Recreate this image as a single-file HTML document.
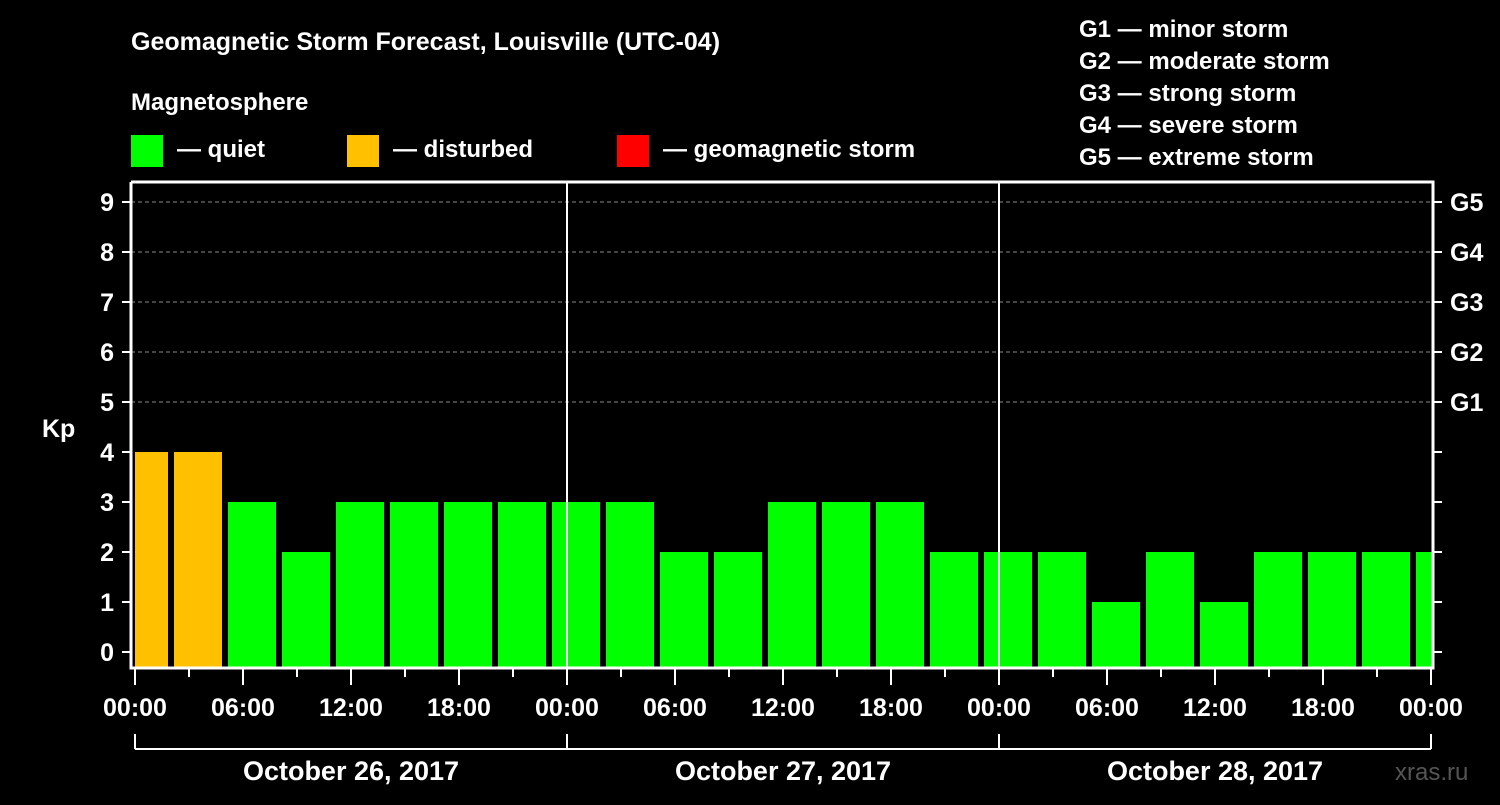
<!DOCTYPE html>
<html><head><meta charset="utf-8"><style>
html,body{margin:0;padding:0;background:#000;}
svg text{font-family:"Liberation Sans",Arial,sans-serif;font-weight:bold;fill:#fff;}
</style></head><body>
<svg id="c" width="1500" height="800" viewBox="0 0 1500 800">
<text x="131" y="50" font-size="25">Geomagnetic Storm Forecast, Louisville (UTC-04)</text>
<text x="131" y="110" font-size="24">Magnetosphere</text>
<rect x="131" y="135" width="32" height="32" fill="#00ff00"/>
<text x="177" y="157" font-size="24">— quiet</text>
<rect x="347" y="135" width="32" height="32" fill="#ffc000"/>
<text x="393" y="157" font-size="24">— disturbed</text>
<rect x="617" y="135" width="32" height="32" fill="#ff0000"/>
<text x="663" y="157" font-size="24">— geomagnetic storm</text>
<g font-size="24">
<text x="1079" y="37">G1 — minor storm</text>
<text x="1079" y="69">G2 — moderate storm</text>
<text x="1079" y="101">G3 — strong storm</text>
<text x="1079" y="133">G4 — severe storm</text>
<text x="1079" y="165">G5 — extreme storm</text>
</g>
<text x="42" y="437" font-size="25">Kp</text>
<text x="1395" y="780" font-size="24" fill="#555" style="fill:#555;font-weight:normal">xras.ru</text>
<g id="grid"></g><g id="bars"></g><g id="axes"></g>
</svg>
<script>
const kpValues=[4,4,3,2,3,3,3,3,3,3,2,2,3,3,3,2,2,2,1,2,1,2,2,2,2];
const yTicks=[0,1,2,3,4,5,6,7,8,9];
const gLabels=["G1","G2","G3","G4","G5"];
const xTickLabels=["00:00","06:00","12:00","18:00","00:00","06:00","12:00","18:00","00:00","06:00","12:00","18:00","00:00"];
const dayLabels=["October 26, 2017","October 27, 2017","October 28, 2017"];
const NS="http://www.w3.org/2000/svg";
const L=131,R=1433,T=182,B=668,X0=135,PXH=18;
const y=v=>652-v*50, x=h=>X0+h*PXH;
function mk(tag,attrs,parent,text){const e=document.createElementNS(NS,tag);for(const k in attrs)e.setAttribute(k,attrs[k]);if(text!==undefined)e.textContent=text;parent.appendChild(e);return e;}
const grid=document.getElementById('grid'),bars=document.getElementById('bars'),axes=document.getElementById('axes');
mk('clipPath',{id:'cp'},grid);mk('rect',{x:L+4,y:T,width:R-L-5,height:B-T},document.getElementById('cp'));
yTicks.forEach(v=>{
 if(v>=5){const gl=mk('line',{x1:L,x2:R,y1:y(v),y2:y(v),stroke:'#888','stroke-dasharray':'4,3','stroke-width':1},grid);
 
 }
 const t=mk('text',{x:114,y:y(v)+9,'font-size':25,'text-anchor':'end'},axes,String(v));
 
 
 mk('line',{x1:122,x2:L,y1:y(v),y2:y(v),stroke:'#fff','stroke-width':2},axes);
 mk('line',{x1:R,x2:1442,y1:y(v),y2:y(v),stroke:'#fff','stroke-width':2},axes);
 if(v>=5){const g=mk('text',{x:1450,y:y(v)+9,'font-size':25},axes,gLabels[v-5]);
 
 }
});
const bg=mk('g',{'clip-path':'url(#cp)'},bars);
kpValues.forEach((v,k)=>{
 const c=x(3*k+0.5);
 const r=mk('rect',{x:c-24,y:y(v),width:48,height:B-y(v),fill:v>=5?'#ff0000':(v>=4?'#ffc000':'#00ff00')},bg);
 
 
});
[1,2].forEach(d=>mk('line',{x1:x(24*d),x2:x(24*d),y1:T,y2:B,stroke:'#fff','stroke-width':2},axes));
mk('polyline',{points:`${L},${T} ${R},${T} ${R},${B} ${L},${B} ${L},${T}`,fill:'none',stroke:'#fff','stroke-width':3},axes);
for(let h=0;h<=72;h+=3){const long=h%6===0;mk('line',{x1:x(h),x2:x(h),y1:B,y2:long?685:677,stroke:'#fff','stroke-width':2},axes);}
xTickLabels.forEach((s,i)=>{const t=mk('text',{x:x(i*6),y:716,'font-size':25,'text-anchor':'middle'},axes,s);
 
 });
mk('line',{x1:x(0),x2:x(72),y1:749,y2:749,stroke:'#fff','stroke-width':2},axes);
[0,1,2,3].forEach(d=>mk('line',{x1:x(24*d),x2:x(24*d),y1:734,y2:749,stroke:'#fff','stroke-width':2},axes));
dayLabels.forEach((s,i)=>{const t=mk('text',{x:x(24*i+12),y:780,'font-size':27,'text-anchor':'middle'},axes,s);
 
 });
</script>
</body></html>
